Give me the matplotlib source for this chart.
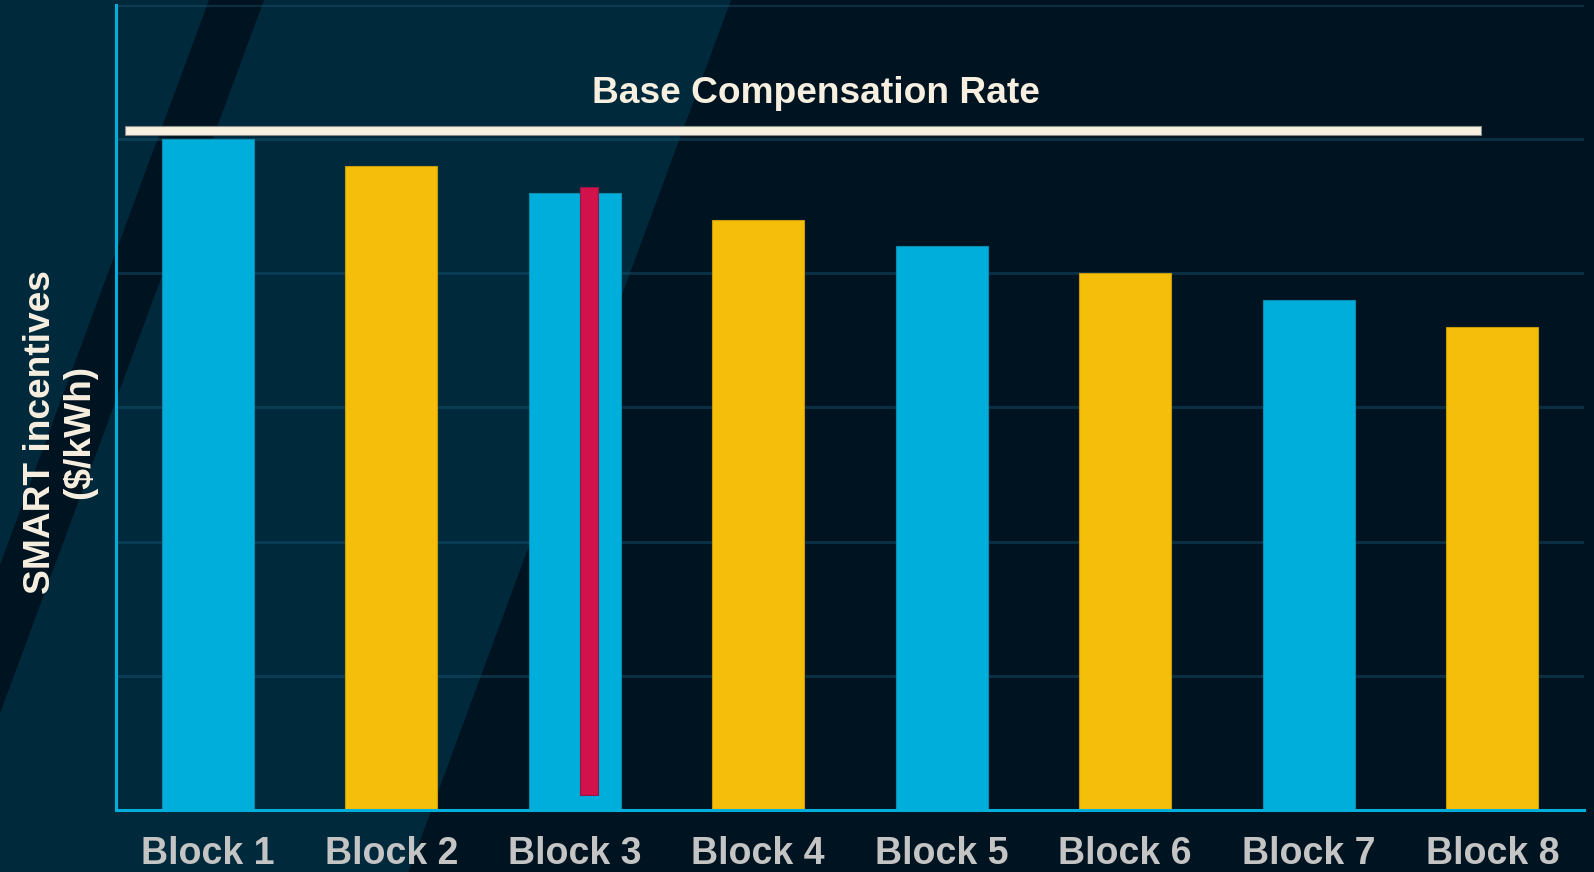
import matplotlib
matplotlib.use("Agg")
import matplotlib.pyplot as plt
from matplotlib.patches import Polygon

# data
blocks = ["Block 1", "Block 2", "Block 3", "Block 4",
          "Block 5", "Block 6", "Block 7", "Block 8"]
incentives = [5.0, 4.8, 4.6, 4.4, 4.2, 4.0, 3.8, 3.6]
bar_colors = ["#00AEDB", "#F5BE0B"] * 4

# red marker inside block 3
marker_x = 2.077
marker_bottom = 0.11
marker_top = 4.64

# base compensation rate line
base_rate = 5.066
base_x0, base_x1 = -0.451, 6.937
base_label = "Base Compensation Rate"

W, H = 1594, 872
LIGHT = "#00293B"
DARK = "#001320"
CREAM = "#F7F0E1"
CYAN = "#00AEDB"

plt.rcParams["font.family"] = ["Liberation Sans", "DejaVu Sans"]

fig = plt.figure(figsize=(W / 100, H / 100), dpi=100, facecolor=DARK)


def px(pts):
    # pixel coords (y from top) -> figure fraction
    return [(x / W, 1 - y / H) for x, y in pts]


# diagonal background stripes, kept behind the axes
slope = 0.37
fig.patches.append(Polygon(px([(0, 0), (731, 0), (731 - slope * H, H), (0, H)]),
                           closed=True, transform=fig.transFigure,
                           facecolor=LIGHT, edgecolor="none", zorder=-10))
fig.patches.append(Polygon(px([(209, 0), (264, 0), (0, 264 / slope), (0, 209 / slope)]),
                           closed=True, transform=fig.transFigure,
                           facecolor=DARK, edgecolor="none", zorder=-9))

left, right, top, bottom = 116, 1584, 5, 810
ax = fig.add_axes([left / W, 1 - bottom / H, (right - left) / W, (bottom - top) / H])
ax.set_facecolor("none")

x = list(range(len(blocks)))
ax.bar(x, incentives, width=0.5, color=bar_colors,
       edgecolor=["#0A8CB0", "#C99A08"] * 4, linewidth=0.8, zorder=3)

ax.bar([marker_x], [marker_top - marker_bottom], bottom=[marker_bottom], width=0.098,
       color="#D1124B", edgecolor="#8E1A4A", linewidth=0.8, zorder=4)

ax.barh([base_rate], [base_x1 - base_x0], left=base_x0, height=0.069,
        color=CREAM, edgecolor="#8A8A8A", linewidth=0.8, zorder=5)
ax.text(3.317, 5.267, base_label, ha="center", va="baseline",
        fontsize=26.7, fontweight="bold", color=CREAM, zorder=6)

ax.set_xlim(-0.5, 7.5)
ax.set_ylim(0, 6)
ax.set_yticks(range(0, 7))
ax.set_yticklabels([])
ax.grid(axis="y", color="#1A5A7A", alpha=0.4, linewidth=2.2, zorder=1)
ax.set_axisbelow(True)

ax.set_xticks(x)
ax.set_xticklabels(blocks, fontsize=27, fontweight="bold", color="#C4C4C4")
ax.tick_params(axis="x", length=0, pad=19)
ax.tick_params(axis="y", length=0)

for side in ["top", "right"]:
    ax.spines[side].set_visible(False)
for side in ["left", "bottom"]:
    ax.spines[side].set_color(CYAN)
    ax.spines[side].set_linewidth(2.2)
    ax.spines[side].set_zorder(7)

fig.text(60 / W, 1 - 432 / H, "SMART incentives\n($/kWh)", rotation=90,
         ha="center", va="center", multialignment="center", linespacing=1.15,
         fontsize=26.7, fontweight="bold", color=CREAM)

fig.savefig("out.png", dpi=100, facecolor=DARK)
